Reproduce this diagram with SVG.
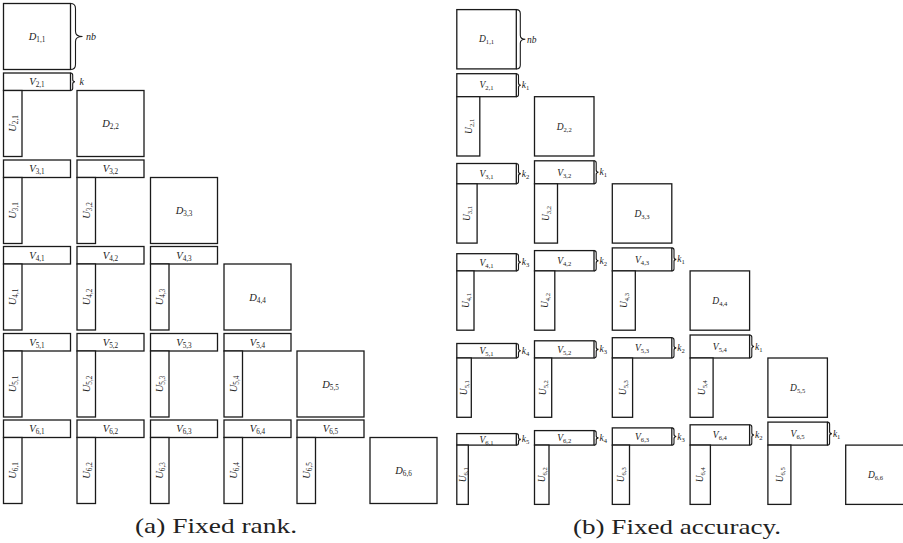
<svg xmlns="http://www.w3.org/2000/svg" width="903" height="543" viewBox="0 0 903 543">
  <style>
    rect { fill: #ffffff; stroke: #1a1a1a; stroke-width: 1.3; }
    .brace { fill: none; stroke: #1a1a1a; stroke-width: 1.1; }
    text { font-family: "Liberation Serif", "Times New Roman", serif; fill: #222; }
    .ma { font-size: 10.5px; font-style: italic; text-anchor: middle; }
    .mb { font-size: 9.5px; font-style: italic; text-anchor: middle; }
    .lab { font-size: 10px; font-style: italic; }
    .labb { font-size: 9.5px; font-style: italic; }
    .s { font-style: normal; font-size: 7.2px; }
    .sb { font-style: normal; font-size: 6.6px; }
    .cap { font-size: 21px; text-anchor: middle; }
  </style>

  <!-- ===== (a) fixed rank: every off-diagonal block has the same rank k ===== -->
  <g id="panel-a">
    <g id="a-D11"><rect x="3.5" y="3.5" width="67" height="66"/><text class="ma" x="37" y="40">D<tspan class="s" dy="2">1,1</tspan></text></g>

    <g id="a-V21"><rect x="3.5" y="73" width="67" height="17.5"/><text class="ma" x="37" y="85.3">V<tspan class="s" dy="2">2,1</tspan></text></g>
    <g id="a-U21"><rect x="3.5" y="90.5" width="18.5" height="66"/><text class="ma" transform="translate(12.75,123.5) rotate(-90)" y="3.5">U<tspan class="s" dy="2">2,1</tspan></text></g>
    <g id="a-D22"><rect x="77" y="90.5" width="67" height="66"/><text class="ma" x="110.5" y="127">D<tspan class="s" dy="2">2,2</tspan></text></g>

    <g id="a-V31"><rect x="3.5" y="160" width="67" height="17.5"/><text class="ma" x="37" y="172.3">V<tspan class="s" dy="2">3,1</tspan></text></g>
    <g id="a-U31"><rect x="3.5" y="177.5" width="18.5" height="66"/><text class="ma" transform="translate(12.75,210.5) rotate(-90)" y="3.5">U<tspan class="s" dy="2">3,1</tspan></text></g>
    <g id="a-V32"><rect x="77" y="160" width="67" height="17.5"/><text class="ma" x="110.5" y="172.3">V<tspan class="s" dy="2">3,2</tspan></text></g>
    <g id="a-U32"><rect x="77" y="177.5" width="18.5" height="66"/><text class="ma" transform="translate(86.25,210.5) rotate(-90)" y="3.5">U<tspan class="s" dy="2">3,2</tspan></text></g>
    <g id="a-D33"><rect x="150.5" y="177.5" width="67" height="66"/><text class="ma" x="184" y="214">D<tspan class="s" dy="2">3,3</tspan></text></g>

    <g id="a-V41"><rect x="3.5" y="246.5" width="67" height="17.5"/><text class="ma" x="37" y="258.8">V<tspan class="s" dy="2">4,1</tspan></text></g>
    <g id="a-U41"><rect x="3.5" y="264" width="18.5" height="66"/><text class="ma" transform="translate(12.75,297) rotate(-90)" y="3.5">U<tspan class="s" dy="2">4,1</tspan></text></g>
    <g id="a-V42"><rect x="77" y="246.5" width="67" height="17.5"/><text class="ma" x="110.5" y="258.8">V<tspan class="s" dy="2">4,2</tspan></text></g>
    <g id="a-U42"><rect x="77" y="264" width="18.5" height="66"/><text class="ma" transform="translate(86.25,297) rotate(-90)" y="3.5">U<tspan class="s" dy="2">4,2</tspan></text></g>
    <g id="a-V43"><rect x="150.5" y="246.5" width="67" height="17.5"/><text class="ma" x="184" y="258.8">V<tspan class="s" dy="2">4,3</tspan></text></g>
    <g id="a-U43"><rect x="150.5" y="264" width="18.5" height="66"/><text class="ma" transform="translate(159.75,297) rotate(-90)" y="3.5">U<tspan class="s" dy="2">4,3</tspan></text></g>
    <g id="a-D44"><rect x="224" y="264" width="67" height="66"/><text class="ma" x="257.5" y="300.5">D<tspan class="s" dy="2">4,4</tspan></text></g>

    <g id="a-V51"><rect x="3.5" y="333.5" width="67" height="17.5"/><text class="ma" x="37" y="345.8">V<tspan class="s" dy="2">5,1</tspan></text></g>
    <g id="a-U51"><rect x="3.5" y="351" width="18.5" height="66"/><text class="ma" transform="translate(12.75,384) rotate(-90)" y="3.5">U<tspan class="s" dy="2">5,1</tspan></text></g>
    <g id="a-V52"><rect x="77" y="333.5" width="67" height="17.5"/><text class="ma" x="110.5" y="345.8">V<tspan class="s" dy="2">5,2</tspan></text></g>
    <g id="a-U52"><rect x="77" y="351" width="18.5" height="66"/><text class="ma" transform="translate(86.25,384) rotate(-90)" y="3.5">U<tspan class="s" dy="2">5,2</tspan></text></g>
    <g id="a-V53"><rect x="150.5" y="333.5" width="67" height="17.5"/><text class="ma" x="184" y="345.8">V<tspan class="s" dy="2">5,3</tspan></text></g>
    <g id="a-U53"><rect x="150.5" y="351" width="18.5" height="66"/><text class="ma" transform="translate(159.75,384) rotate(-90)" y="3.5">U<tspan class="s" dy="2">5,3</tspan></text></g>
    <g id="a-V54"><rect x="224" y="333.5" width="67" height="17.5"/><text class="ma" x="257.5" y="345.8">V<tspan class="s" dy="2">5,4</tspan></text></g>
    <g id="a-U54"><rect x="224" y="351" width="18.5" height="66"/><text class="ma" transform="translate(233.25,384) rotate(-90)" y="3.5">U<tspan class="s" dy="2">5,4</tspan></text></g>
    <g id="a-D55"><rect x="297" y="351" width="67" height="66"/><text class="ma" x="330.5" y="387.5">D<tspan class="s" dy="2">5,5</tspan></text></g>

    <g id="a-V61"><rect x="3.5" y="420" width="67" height="17.5"/><text class="ma" x="37" y="432.3">V<tspan class="s" dy="2">6,1</tspan></text></g>
    <g id="a-U61"><rect x="3.5" y="437.5" width="18.5" height="66"/><text class="ma" transform="translate(12.75,470.5) rotate(-90)" y="3.5">U<tspan class="s" dy="2">6,1</tspan></text></g>
    <g id="a-V62"><rect x="77" y="420" width="67" height="17.5"/><text class="ma" x="110.5" y="432.3">V<tspan class="s" dy="2">6,2</tspan></text></g>
    <g id="a-U62"><rect x="77" y="437.5" width="18.5" height="66"/><text class="ma" transform="translate(86.25,470.5) rotate(-90)" y="3.5">U<tspan class="s" dy="2">6,2</tspan></text></g>
    <g id="a-V63"><rect x="150.5" y="420" width="67" height="17.5"/><text class="ma" x="184" y="432.3">V<tspan class="s" dy="2">6,3</tspan></text></g>
    <g id="a-U63"><rect x="150.5" y="437.5" width="18.5" height="66"/><text class="ma" transform="translate(159.75,470.5) rotate(-90)" y="3.5">U<tspan class="s" dy="2">6,3</tspan></text></g>
    <g id="a-V64"><rect x="224" y="420" width="67" height="17.5"/><text class="ma" x="257.5" y="432.3">V<tspan class="s" dy="2">6,4</tspan></text></g>
    <g id="a-U64"><rect x="224" y="437.5" width="18.5" height="66"/><text class="ma" transform="translate(233.25,470.5) rotate(-90)" y="3.5">U<tspan class="s" dy="2">6,4</tspan></text></g>
    <g id="a-V65"><rect x="297" y="420" width="67" height="17.5"/><text class="ma" x="330.5" y="432.3">V<tspan class="s" dy="2">6,5</tspan></text></g>
    <g id="a-U65"><rect x="297" y="437.5" width="18.5" height="66"/><text class="ma" transform="translate(306.25,470.5) rotate(-90)" y="3.5">U<tspan class="s" dy="2">6,5</tspan></text></g>
    <g id="a-D66"><rect x="370" y="437.5" width="67" height="66"/><text class="ma" x="403.5" y="474">D<tspan class="s" dy="2">6,6</tspan></text></g>

    <text class="cap" x="216" y="533" textLength="162" lengthAdjust="spacingAndGlyphs">(a) Fixed rank.</text>
  </g>

  <!-- ===== (b) fixed accuracy: ranks k1 > k2 > ... shrink away from the diagonal ===== -->
  <g id="panel-b">
    <g id="b-D11"><rect x="456.8" y="9.6" width="59.5" height="59.3"/><text class="mb" x="486.55" y="42.45">D<tspan class="sb" dy="2">1,1</tspan></text></g>

    <g id="b-V21"><rect x="456.8" y="73.7" width="59.5" height="23"/><text class="mb" x="486.55" y="88.4">V<tspan class="sb" dy="2">2,1</tspan></text></g>
    <g id="b-U21"><rect x="456.8" y="96.7" width="23" height="59.3"/><text class="mb" transform="translate(468.3,126.35) rotate(-90)" y="3.2">U<tspan class="sb" dy="2">2,1</tspan></text></g>
    <g id="b-D22"><rect x="534.5" y="96.7" width="59.5" height="59.3"/><text class="mb" x="564.25" y="129.55">D<tspan class="sb" dy="2">2,2</tspan></text></g>

    <g id="b-V31"><rect x="456.8" y="163.5" width="59.5" height="20.3"/><text class="mb" x="486.55" y="176.85">V<tspan class="sb" dy="2">3,1</tspan></text></g>
    <g id="b-U31"><rect x="456.8" y="183.8" width="20.3" height="59.3"/><text class="mb" transform="translate(466.95,213.45) rotate(-90)" y="3.2">U<tspan class="sb" dy="2">3,1</tspan></text></g>
    <g id="b-V32"><rect x="534.5" y="160.8" width="59.5" height="23"/><text class="mb" x="564.25" y="175.5">V<tspan class="sb" dy="2">3,2</tspan></text></g>
    <g id="b-U32"><rect x="534.5" y="183.8" width="23" height="59.3"/><text class="mb" transform="translate(546,213.45) rotate(-90)" y="3.2">U<tspan class="sb" dy="2">3,2</tspan></text></g>
    <g id="b-D33"><rect x="612.3" y="183.8" width="59.5" height="59.3"/><text class="mb" x="642.05" y="216.65">D<tspan class="sb" dy="2">3,3</tspan></text></g>

    <g id="b-V41"><rect x="456.8" y="253.7" width="59.5" height="17.2"/><text class="mb" x="486.55" y="265.5">V<tspan class="sb" dy="2">4,1</tspan></text></g>
    <g id="b-U41"><rect x="456.8" y="270.9" width="17.2" height="59.3"/><text class="mb" transform="translate(465.4,300.55) rotate(-90)" y="3.2">U<tspan class="sb" dy="2">4,1</tspan></text></g>
    <g id="b-V42"><rect x="534.5" y="250.6" width="59.5" height="20.3"/><text class="mb" x="564.25" y="263.95">V<tspan class="sb" dy="2">4,2</tspan></text></g>
    <g id="b-U42"><rect x="534.5" y="270.9" width="20.3" height="59.3"/><text class="mb" transform="translate(544.65,300.55) rotate(-90)" y="3.2">U<tspan class="sb" dy="2">4,2</tspan></text></g>
    <g id="b-V43"><rect x="612.3" y="247.9" width="59.5" height="23"/><text class="mb" x="642.05" y="262.6">V<tspan class="sb" dy="2">4,3</tspan></text></g>
    <g id="b-U43"><rect x="612.3" y="270.9" width="23" height="59.3"/><text class="mb" transform="translate(623.8,300.55) rotate(-90)" y="3.2">U<tspan class="sb" dy="2">4,3</tspan></text></g>
    <g id="b-D44"><rect x="690.1" y="270.9" width="59.5" height="59.3"/><text class="mb" x="719.85" y="303.75">D<tspan class="sb" dy="2">4,4</tspan></text></g>

    <g id="b-V51"><rect x="456.8" y="343.5" width="59.5" height="14.5"/><text class="mb" x="486.55" y="353.95">V<tspan class="sb" dy="2">5,1</tspan></text></g>
    <g id="b-U51"><rect x="456.8" y="358" width="14.5" height="59.3"/><text class="mb" transform="translate(464.05,387.65) rotate(-90)" y="3.2">U<tspan class="sb" dy="2">5,1</tspan></text></g>
    <g id="b-V52"><rect x="534.5" y="340.8" width="59.5" height="17.2"/><text class="mb" x="564.25" y="352.6">V<tspan class="sb" dy="2">5,2</tspan></text></g>
    <g id="b-U52"><rect x="534.5" y="358" width="17.2" height="59.3"/><text class="mb" transform="translate(543.1,387.65) rotate(-90)" y="3.2">U<tspan class="sb" dy="2">5,2</tspan></text></g>
    <g id="b-V53"><rect x="612.3" y="337.7" width="59.5" height="20.3"/><text class="mb" x="642.05" y="351.05">V<tspan class="sb" dy="2">5,3</tspan></text></g>
    <g id="b-U53"><rect x="612.3" y="358" width="20.3" height="59.3"/><text class="mb" transform="translate(622.45,387.65) rotate(-90)" y="3.2">U<tspan class="sb" dy="2">5,3</tspan></text></g>
    <g id="b-V54"><rect x="690.1" y="335" width="59.5" height="23"/><text class="mb" x="719.85" y="349.7">V<tspan class="sb" dy="2">5,4</tspan></text></g>
    <g id="b-U54"><rect x="690.1" y="358" width="23" height="59.3"/><text class="mb" transform="translate(701.6,387.65) rotate(-90)" y="3.2">U<tspan class="sb" dy="2">5,4</tspan></text></g>
    <g id="b-D55"><rect x="767.9" y="358" width="59.5" height="59.3"/><text class="mb" x="797.65" y="390.85">D<tspan class="sb" dy="2">5,5</tspan></text></g>

    <g id="b-V61"><rect x="456.8" y="433.6" width="59.5" height="11.5"/><text class="mb" x="486.55" y="442.55">V<tspan class="sb" dy="2">6,1</tspan></text></g>
    <g id="b-U61"><rect x="456.8" y="445.1" width="11.5" height="59.3"/><text class="mb" transform="translate(462.55,474.75) rotate(-90)" y="3.2">U<tspan class="sb" dy="2">6,1</tspan></text></g>
    <g id="b-V62"><rect x="534.5" y="430.6" width="59.5" height="14.5"/><text class="mb" x="564.25" y="441.05">V<tspan class="sb" dy="2">6,2</tspan></text></g>
    <g id="b-U62"><rect x="534.5" y="445.1" width="14.5" height="59.3"/><text class="mb" transform="translate(541.75,474.75) rotate(-90)" y="3.2">U<tspan class="sb" dy="2">6,2</tspan></text></g>
    <g id="b-V63"><rect x="612.3" y="427.9" width="59.5" height="17.2"/><text class="mb" x="642.05" y="439.7">V<tspan class="sb" dy="2">6,3</tspan></text></g>
    <g id="b-U63"><rect x="612.3" y="445.1" width="17.2" height="59.3"/><text class="mb" transform="translate(620.9,474.75) rotate(-90)" y="3.2">U<tspan class="sb" dy="2">6,3</tspan></text></g>
    <g id="b-V64"><rect x="690.1" y="424.8" width="59.5" height="20.3"/><text class="mb" x="719.85" y="438.15">V<tspan class="sb" dy="2">6,4</tspan></text></g>
    <g id="b-U64"><rect x="690.1" y="445.1" width="20.3" height="59.3"/><text class="mb" transform="translate(700.25,474.75) rotate(-90)" y="3.2">U<tspan class="sb" dy="2">6,4</tspan></text></g>
    <g id="b-V65"><rect x="767.9" y="422.1" width="59.5" height="23"/><text class="mb" x="797.65" y="436.8">V<tspan class="sb" dy="2">6,5</tspan></text></g>
    <g id="b-U65"><rect x="767.9" y="445.1" width="23" height="59.3"/><text class="mb" transform="translate(779.4,474.75) rotate(-90)" y="3.2">U<tspan class="sb" dy="2">6,5</tspan></text></g>
    <g id="b-D66"><rect x="845.7" y="445.1" width="59.5" height="59.3"/><text class="mb" x="875.45" y="477.95">D<tspan class="sb" dy="2">6,6</tspan></text></g>

    <text class="cap" x="677" y="534" textLength="208" lengthAdjust="spacingAndGlyphs">(b) Fixed accuracy.</text>
  </g>

  <!-- size braces with their labels -->
  <g id="braces">
    <!-- panel (a) -->
    <path class="brace" d="M70.5,3.5 q5,0 5,5 v23 q0,5 7,5 q-7,0 -7,5 v23 q0,5 -5,5"/>
    <text class="lab" x="86" y="40">nb</text>
    <path class="brace" d="M70.5,73 q2.2,0 2.2,2.2 v4.35 q0,2.2 2.3,2.2 q-2.3,0 -2.3,2.2 v4.35 q0,2.2 -2.2,2.2"/>
    <text class="lab" x="79.5" y="85">k</text>

    <!-- panel (b) -->
    <path class="brace" d="M516.3,9.6 q4,0 4,4 v21.65 q0,4 5,4 q-5,0 -5,4 v21.65 q0,4 -4,4"/>
    <text class="labb" x="527" y="42.5">nb</text>

    <path class="brace" d="M516.3,73.7 q2.2,0 2.2,2.2 v7.1 q0,2.2 2.3,2.2 q-2.3,0 -2.3,2.2 v7.1 q0,2.2 -2.2,2.2"/>
    <text class="labb" x="521.8" y="88.2">k<tspan class="sb" dy="2">1</tspan></text>

    <path class="brace" d="M516.3,163.5 q2.2,0 2.2,2.2 v5.75 q0,2.2 2.3,2.2 q-2.3,0 -2.3,2.2 v5.75 q0,2.2 -2.2,2.2"/>
    <text class="labb" x="521.8" y="176.65">k<tspan class="sb" dy="2">2</tspan></text>
    <path class="brace" d="M594,160.8 q2.2,0 2.2,2.2 v7.1 q0,2.2 2.3,2.2 q-2.3,0 -2.3,2.2 v7.1 q0,2.2 -2.2,2.2"/>
    <text class="labb" x="599.5" y="175.3">k<tspan class="sb" dy="2">1</tspan></text>

    <path class="brace" d="M516.3,253.7 q2.2,0 2.2,2.2 v4.2 q0,2.2 2.3,2.2 q-2.3,0 -2.3,2.2 v4.2 q0,2.2 -2.2,2.2"/>
    <text class="labb" x="521.8" y="265.3">k<tspan class="sb" dy="2">3</tspan></text>
    <path class="brace" d="M594,250.6 q2.2,0 2.2,2.2 v5.75 q0,2.2 2.3,2.2 q-2.3,0 -2.3,2.2 v5.75 q0,2.2 -2.2,2.2"/>
    <text class="labb" x="599.5" y="263.75">k<tspan class="sb" dy="2">2</tspan></text>
    <path class="brace" d="M671.8,247.9 q2.2,0 2.2,2.2 v7.1 q0,2.2 2.3,2.2 q-2.3,0 -2.3,2.2 v7.1 q0,2.2 -2.2,2.2"/>
    <text class="labb" x="677.3" y="262.4">k<tspan class="sb" dy="2">1</tspan></text>

    <path class="brace" d="M516.3,343.5 q2.2,0 2.2,2.2 v2.85 q0,2.2 2.3,2.2 q-2.3,0 -2.3,2.2 v2.85 q0,2.2 -2.2,2.2"/>
    <text class="labb" x="521.8" y="353.75">k<tspan class="sb" dy="2">4</tspan></text>
    <path class="brace" d="M594,340.8 q2.2,0 2.2,2.2 v4.2 q0,2.2 2.3,2.2 q-2.3,0 -2.3,2.2 v4.2 q0,2.2 -2.2,2.2"/>
    <text class="labb" x="599.5" y="352.4">k<tspan class="sb" dy="2">3</tspan></text>
    <path class="brace" d="M671.8,337.7 q2.2,0 2.2,2.2 v5.75 q0,2.2 2.3,2.2 q-2.3,0 -2.3,2.2 v5.75 q0,2.2 -2.2,2.2"/>
    <text class="labb" x="677.3" y="350.85">k<tspan class="sb" dy="2">2</tspan></text>
    <path class="brace" d="M749.6,335 q2.2,0 2.2,2.2 v7.1 q0,2.2 2.3,2.2 q-2.3,0 -2.3,2.2 v7.1 q0,2.2 -2.2,2.2"/>
    <text class="labb" x="755.1" y="349.5">k<tspan class="sb" dy="2">1</tspan></text>

    <path class="brace" d="M516.3,433.6 q2.2,0 2.2,2.2 v1.35 q0,2.2 2.3,2.2 q-2.3,0 -2.3,2.2 v1.35 q0,2.2 -2.2,2.2"/>
    <text class="labb" x="521.8" y="442.35">k<tspan class="sb" dy="2">5</tspan></text>
    <path class="brace" d="M594,430.6 q2.2,0 2.2,2.2 v2.85 q0,2.2 2.3,2.2 q-2.3,0 -2.3,2.2 v2.85 q0,2.2 -2.2,2.2"/>
    <text class="labb" x="599.5" y="440.85">k<tspan class="sb" dy="2">4</tspan></text>
    <path class="brace" d="M671.8,427.9 q2.2,0 2.2,2.2 v4.2 q0,2.2 2.3,2.2 q-2.3,0 -2.3,2.2 v4.2 q0,2.2 -2.2,2.2"/>
    <text class="labb" x="677.3" y="439.5">k<tspan class="sb" dy="2">3</tspan></text>
    <path class="brace" d="M749.6,424.8 q2.2,0 2.2,2.2 v5.75 q0,2.2 2.3,2.2 q-2.3,0 -2.3,2.2 v5.75 q0,2.2 -2.2,2.2"/>
    <text class="labb" x="755.1" y="437.95">k<tspan class="sb" dy="2">2</tspan></text>
    <path class="brace" d="M827.4,422.1 q2.2,0 2.2,2.2 v7.1 q0,2.2 2.3,2.2 q-2.3,0 -2.3,2.2 v7.1 q0,2.2 -2.2,2.2"/>
    <text class="labb" x="832.9" y="436.6">k<tspan class="sb" dy="2">1</tspan></text>
  </g>
</svg>
